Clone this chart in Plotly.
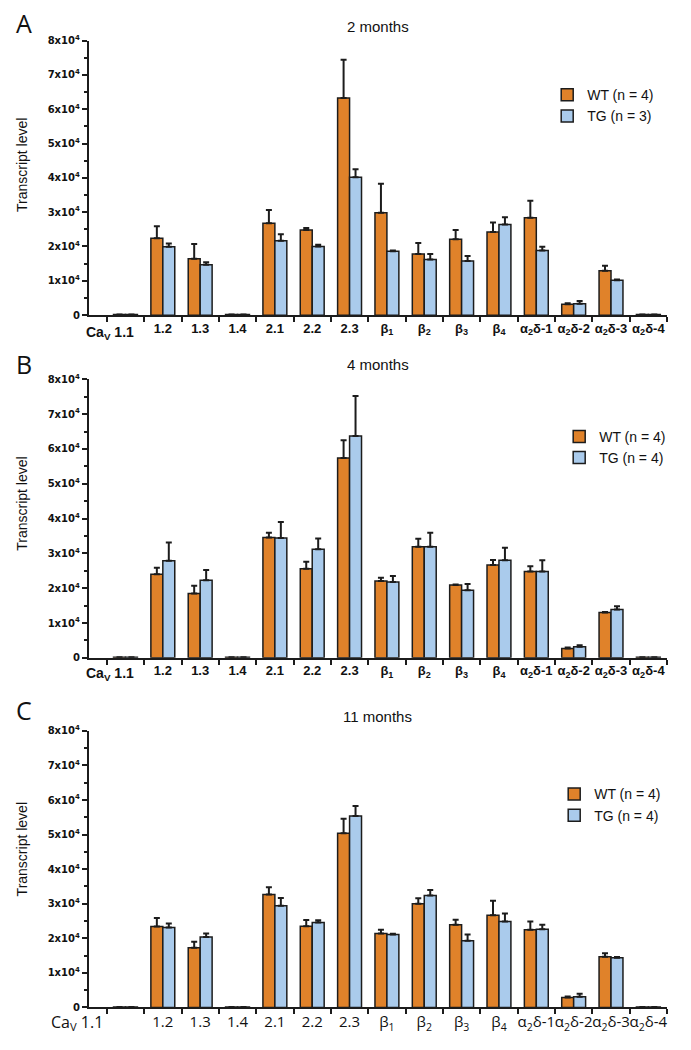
import plotly.graph_objects as go

categories = ["1.1", "1.2", "1.3", "1.4", "2.1", "2.2", "2.3",
              "β<sub>1</sub>", "β<sub>2</sub>", "β<sub>3</sub>", "β<sub>4</sub>",
              "α<sub>2</sub>δ-1", "α<sub>2</sub>δ-2", "α<sub>2</sub>δ-3", "α<sub>2</sub>δ-4"]
tick_labels = [""] + categories[1:]
first_label = "Ca<sub>V</sub> 1.1"

# Panel A: 2 months
wt_2m = [150, 22400, 16400, 150, 26800, 24800, 63300, 29800, 17800, 22100, 24200, 28400, 3200, 12900, 150]
wt_2m_err = [0, 3500, 4300, 0, 3800, 600, 11100, 8500, 3200, 2700, 2800, 4900, 300, 1500, 0]
tg_2m = [150, 19900, 14700, 150, 21700, 20000, 40200, 18600, 16200, 15800, 26400, 18800, 3300, 10200, 150]
tg_2m_err = [0, 1000, 700, 0, 1900, 500, 2300, 200, 1600, 1400, 2100, 1100, 800, 200, 0]

# Panel B: 4 months
wt_4m = [150, 24000, 18500, 150, 34600, 25600, 57400, 22100, 31900, 20900, 26700, 24800, 2700, 13000, 150]
wt_4m_err = [0, 1900, 2200, 0, 1300, 2000, 5100, 900, 2300, 200, 1400, 1500, 300, 200, 0]
tg_4m = [150, 27900, 22300, 150, 34400, 31200, 63700, 21800, 31900, 19400, 28000, 24800, 3200, 13900, 150]
tg_4m_err = [0, 5200, 2900, 0, 4600, 3100, 11500, 1700, 4000, 1800, 3600, 3200, 400, 900, 0]

# Panel C: 11 months
wt_11m = [150, 23400, 17300, 150, 32700, 23500, 50400, 21400, 30000, 23900, 26700, 22500, 2900, 14700, 150]
wt_11m_err = [0, 2500, 1700, 0, 2100, 1800, 4200, 1100, 1600, 1500, 4200, 2400, 300, 1000, 0]
tg_11m = [150, 23100, 20400, 150, 29400, 24600, 55400, 21100, 32400, 19300, 24900, 22600, 3100, 14400, 150]
tg_11m_err = [0, 1200, 1000, 0, 2300, 600, 2900, 200, 1600, 1800, 2300, 1300, 900, 200, 0]

titles = ["2 months", "4 months", "11 months"]
letters = ["A", "B", "C"]
wt_labels = ["WT (n = 4)", "WT (n = 4)", "WT (n = 4)"]
tg_labels = ["TG (n = 3)", "TG (n = 4)", "TG (n = 4)"]

ytick_vals = [0, 10000, 20000, 30000, 40000, 50000, 60000, 70000, 80000]
ytick_text = ["0"] + [f"{k}x10<sup>4</sup>" for k in range(1, 9)]

ORANGE = "#E0822A"
BLUE = "#AACBEC"
EDGE = "#1c1c1c"
FONT = "Liberation Sans"
FONT_C = "Open Sans"

W, H = 691, 1050
x_left, x_right = 89, 668
panels_px = [(34, 312), (377, 659), (733, 1013)]

panels = [
    (wt_2m, wt_2m_err, tg_2m, tg_2m_err),
    (wt_4m, wt_4m_err, tg_4m, tg_4m_err),
    (wt_11m, wt_11m_err, tg_11m, tg_11m_err),
]
legend_pos = [(548, 73), (560, 419), (555, 781)]
title_y = [20, 362, 718]
letter_y = [16, 361, 712]
ytitle_y = [160, 503, 853]
first_label_x = [110, 110, 77]
first_label_dy = [18, 16, 15]

fig = go.Figure()
n = len(categories)
for i, (wt, wte, tg, tge) in enumerate(panels):
    suffix = "" if i == 0 else str(i + 1)
    xa = "x" + suffix
    ya = "y" + suffix
    lg = "legend" + suffix
    bold = i < 2
    xfont = dict(family=FONT if bold else FONT_C, size=13 if bold else 15, color="#111",
                 weight="bold" if bold else "normal")
    fig.add_trace(go.Bar(
        x=categories, y=wt, name=wt_labels[i], xaxis=xa, yaxis=ya, legend=lg,
        marker=dict(color=ORANGE, line=dict(color=EDGE, width=1.5)),
        error_y=dict(type="data", symmetric=False, array=wte, arrayminus=[0] * n,
                     color=EDGE, thickness=2, width=3),
    ))
    fig.add_trace(go.Bar(
        x=categories, y=tg, name=tg_labels[i], xaxis=xa, yaxis=ya, legend=lg,
        marker=dict(color=BLUE, line=dict(color=EDGE, width=1.5)),
        error_y=dict(type="data", symmetric=False, array=tge, arrayminus=[0] * n,
                     color=EDGE, thickness=2, width=3),
    ))
    top, bot = panels_px[i]
    fig.layout["xaxis" + suffix] = dict(
        domain=[x_left / W, x_right / W], anchor=ya, type="category",
        range=[-0.98, 14.5], showline=True, linecolor=EDGE, linewidth=2,
        ticks="outside", ticklen=5, tickwidth=2, tickcolor=EDGE, tickson="boundaries",
        tickmode="array", tickvals=categories, ticktext=tick_labels, tickangle=0,
        showgrid=False, zeroline=False, tickfont=xfont,
    )
    fig.layout["yaxis" + suffix] = dict(
        domain=[1 - bot / H, 1 - top / H], anchor=xa, range=[0, 80000],
        showline=True, linecolor=EDGE, linewidth=2,
        ticks="outside", ticklen=5, tickwidth=2, tickcolor=EDGE,
        tickvals=ytick_vals, ticktext=ytick_text,
        minor=dict(dtick=5000, ticks="outside", ticklen=3, tickwidth=1.5, tickcolor=EDGE),
        showgrid=False, zeroline=False,
        tickfont=dict(family="DejaVu Sans", size=10, color="#111", weight="bold"),
    )
    lx, ly = legend_pos[i]
    fig.layout[lg] = dict(
        x=lx / W, y=1 - ly / H, xanchor="left", yanchor="top",
        bgcolor="rgba(0,0,0,0)", font=dict(family=FONT, size=14, color="#111"),
        tracegroupgap=0, itemwidth=30,
    )
    fig.add_annotation(text=titles[i], xref="paper", yref="paper",
                       x=((x_left + x_right) / 2) / W, y=1 - title_y[i] / H,
                       xanchor="center", yanchor="middle",
                       showarrow=False, font=dict(family=FONT, size=15, color="#111"))
    fig.add_annotation(text=letters[i], xref="paper", yref="paper",
                       x=24 / W, y=1 - letter_y[i] / H, xanchor="center", yanchor="middle",
                       showarrow=False, font=dict(family=FONT_C, size=25, color="#111"))
    fig.add_annotation(text="Transcript level", xref="paper", yref="paper",
                       x=22 / W, y=1 - ytitle_y[i] / H, xanchor="center", yanchor="middle",
                       textangle=-90, showarrow=False,
                       font=dict(family=FONT, size=14, color="#111"))
    fig.add_annotation(text=first_label, xref="paper", yref="paper",
                       x=first_label_x[i] / W, y=1 - (bot + first_label_dy[i]) / H,
                       xanchor="center", yanchor="middle", showarrow=False,
                       font=dict(family=xfont["family"], size=14 if bold else 16, color="#111",
                                 weight=xfont["weight"]))

fig.update_layout(
    width=W, height=H, margin=dict(l=0, r=0, t=0, b=0),
    plot_bgcolor="white", paper_bgcolor="white",
    barmode="group", bargap=0.36, bargroupgap=0.0,
    showlegend=True,
)

fig.write_html("out.html", config={"displayModeBar": False},
               post_script="document.body.style.margin='0';")
